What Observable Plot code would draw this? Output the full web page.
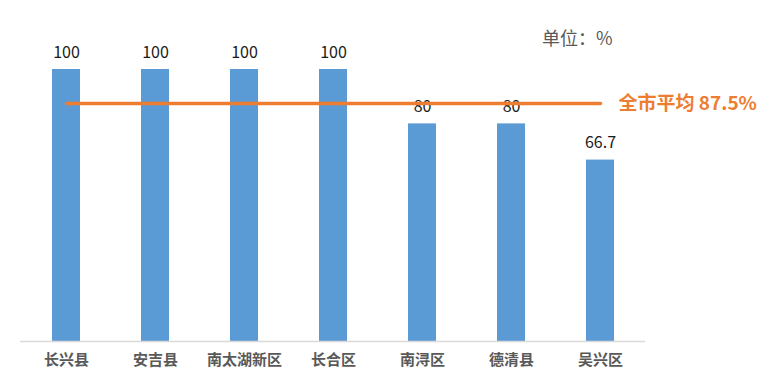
<!DOCTYPE html>
<html>
<head>
<meta charset="utf-8">
<script src="https://cdn.jsdelivr.net/npm/d3@7"></script>
<script src="https://cdn.jsdelivr.net/npm/@observablehq/plot@0.6"></script>
<style>
  html, body { margin: 0; padding: 0; background: #fff; }
  #chart { width: 768px; height: 379px; }
  svg { font-family: "Microsoft YaHei", "Noto Sans CJK SC", "Noto Sans", sans-serif; }
</style>
</head>
<body>
<div id="chart"></div>
<script>
const categories = ["长兴县", "安吉县", "南太湖新区", "长合区", "南浔区", "德清县", "吴兴区"];
const values = [100, 100, 100, 100, 80, 80, 66.7];
const valueLabels = ["100", "100", "100", "100", "80", "80", "66.7"];
const average = 87.5;
const averageLabel = "全市平均 87.5%";
const unitLabel = "单位：%";

const data = categories.map((c, i) => ({cat: c, value: values[i], label: valueLabels[i]}));
const avgLine = [categories[0], categories[categories.length - 1]].map(c => ({cat: c, value: average}));
const last = categories[categories.length - 1];

const chart = Plot.plot({
  width: 768,
  height: 379,
  marginLeft: 20,
  marginRight: 123,
  marginTop: 69,
  marginBottom: 38,
  style: {fontFamily: '"Microsoft YaHei", "Noto Sans CJK SC", sans-serif', background: "#fff"},
  x: {domain: categories, paddingInner: 0.69, paddingOuter: 0.345, label: null},
  y: {domain: [0, 100], axis: null},
  marks: [
    Plot.barY(data, {x: "cat", y: "value", fill: "#5B9BD5"}),
    Plot.ruleY([0], {stroke: "#D9D9D9", strokeWidth: 1.5}),
    Plot.text(data, {x: "cat", y: "value", text: "label", dy: -12, lineAnchor: "bottom", fontSize: 16, fill: "#1a1a1a"}),
    Plot.line(avgLine, {x: "cat", y: "value", stroke: "#ED7D31", strokeWidth: 3.5}),
    Plot.text([{cat: last, value: average}], {x: "cat", y: "value", text: () => averageLabel, textAnchor: "start", dx: 18, fontSize: 19, fontWeight: "bold", fill: "#ED7D31"}),
    Plot.text([{cat: last}], {x: "cat", frameAnchor: "top", text: () => unitLabel, textAnchor: "end", dx: 12, dy: -37, fontSize: 18, fill: "#595959"}),
    Plot.axisX({tickSize: 0, tickPadding: 13, fontSize: 15, fontWeight: "bold", color: "#595959", label: null})
  ]
});
document.getElementById("chart").appendChild(chart);
</script>
</body>
</html>
